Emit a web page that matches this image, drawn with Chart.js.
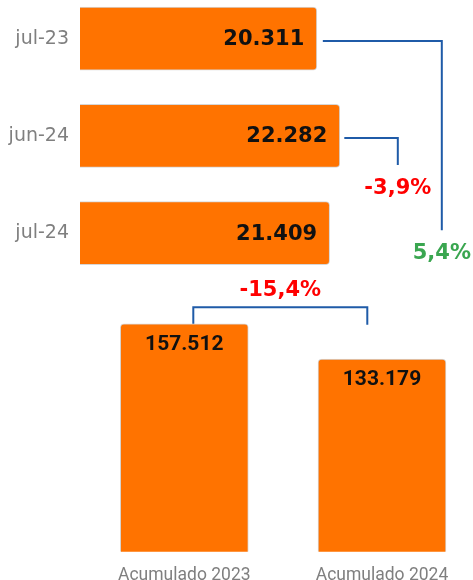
<!DOCTYPE html>
<html>
<head>
<meta charset="utf-8">
<script src="https://cdn.jsdelivr.net/npm/chart.js@4/dist/chart.umd.min.js"></script>
<style>
  html, body { margin: 0; padding: 0; background: #ffffff; }
  #wrap { position: relative; width: 473px; height: 580px; overflow: hidden; }
  canvas { position: absolute; left: 0; top: 0; }
</style>
</head>
<body>
<div id="wrap">
  <canvas id="top" width="473" height="580"></canvas>
  <canvas id="bottom" width="473" height="580"></canvas>
</div>
<script>
// ---- data ----
const monthLabels = ['jul-23', 'jun-24', 'jul-24'];
const monthValues = [20311, 22282, 21409];
const accumLabels = ['Acumulado 2023', 'Acumulado 2024'];
const accumValues = [157512, 133179];

// ---- styles ----
const ORANGE = '#FF7300';
const EDGE = '#d6d6d6';
const LINE = '#1f5ba8';
const RED = '#ff0000';
const GREEN = '#3aa650';
const GRAY = '#7f7f7f';
const PCT_FONT = 'bold 21px "DejaVu Sans"';

function fmtNum(v) {
  return String(v).replace(/\B(?=(\d{3})+(?!\d))/g, '.');
}
function pct(a, b) {
  const p = (b / a - 1) * 100;
  return { text: p.toFixed(1).replace('.', ',') + '%', color: p < 0 ? RED : GREEN };
}

// ---- top (horizontal) chart ----
const topPlugin = {
  id: 'topAnno',
  afterDatasetsDraw(chart) {
    const ctx = chart.ctx;
    const bars = chart.getDatasetMeta(0).data;
    ctx.save();
    ctx.font = 'bold 21px "DejaVu Sans"';
    ctx.fillStyle = '#111111';
    ctx.textAlign = 'right';
    ctx.textBaseline = 'middle';
    bars.forEach((b, i) => {
      ctx.fillText(fmtNum(monthValues[i]), b.x - 12.5, b.y + 1);
    });
    const maxEnd = Math.max(...bars.map(b => b.x));
    ctx.strokeStyle = LINE;
    ctx.lineWidth = 2;
    const b0 = bars[0], b1 = bars[1], b2 = bars[2];
    // connector jun-24 -> jul-24
    const xv2 = maxEnd + 58;
    ctx.beginPath();
    ctx.moveTo(b1.x + 4.5, b1.y + 2);
    ctx.lineTo(xv2, b1.y + 2);
    ctx.lineTo(xv2, b1.y + 29);
    ctx.stroke();
    // connector jul-23 -> jul-24
    const xv1 = maxEnd + 102;
    ctx.beginPath();
    ctx.moveTo(b0.x + 6, b0.y + 2.3);
    ctx.lineTo(xv1, b0.y + 2.3);
    ctx.lineTo(xv1, b2.y - 3);
    ctx.stroke();
    // percentages
    ctx.font = PCT_FONT;
    ctx.textAlign = 'center';
    const p1 = pct(monthValues[1], monthValues[2]);
    ctx.fillStyle = p1.color;
    ctx.fillText(p1.text, xv2, b1.y + 53);
    const p0 = pct(monthValues[0], monthValues[2]);
    ctx.fillStyle = p0.color;
    ctx.fillText(p0.text, xv1, b2.y + 20);
    ctx.restore();
  }
};

new Chart(document.getElementById('top'), {
  type: 'bar',
  data: {
    labels: monthLabels,
    datasets: [{
      data: monthValues,
      backgroundColor: ORANGE,
      borderColor: EDGE,
      borderWidth: 1,
      borderRadius: 4,
      borderSkipped: 'start',
      barThickness: 63,
      clip: false
    }]
  },
  options: {
    indexAxis: 'y',
    responsive: false,
    animation: false,
    layout: { padding: { top: 38.7, bottom: 580 - 233.2, left: 0, right: 43.2 } },
    plugins: { legend: { display: false }, tooltip: { enabled: false } },
    scales: {
      x: { display: false, min: 0, max: 30000 },
      y: {
        offset: false,
        grid: { display: false, drawTicks: false },
        border: { display: false },
        ticks: { color: GRAY, font: { family: 'DejaVu Sans', size: 19 }, padding: 11 },
        afterFit(s) { s.width = 80; }
      }
    }
  },
  plugins: [topPlugin]
});

// ---- bottom (vertical) chart ----
const bottomPlugin = {
  id: 'bottomAnno',
  afterDatasetsDraw(chart) {
    const ctx = chart.ctx;
    const bars = chart.getDatasetMeta(0).data;
    ctx.save();
    ctx.font = 'bold 21px Roboto';
    ctx.fillStyle = '#111111';
    ctx.textAlign = 'center';
    ctx.textBaseline = 'middle';
    bars.forEach((b, i) => {
      ctx.fillText(fmtNum(accumValues[i]), b.x, b.y + 21);
    });
    const a = bars[0], c = bars[1];
    const topY = Math.min(a.y, c.y) - 16.6;
    const xl = a.x + 9, xr = c.x - 14.7;
    ctx.strokeStyle = LINE;
    ctx.lineWidth = 2;
    ctx.beginPath();
    ctx.moveTo(xl, topY + 16.6);
    ctx.lineTo(xl, topY);
    ctx.lineTo(xr, topY);
    ctx.lineTo(xr, topY + 17.6);
    ctx.stroke();
    const p = pct(accumValues[0], accumValues[1]);
    ctx.font = PCT_FONT;
    ctx.fillStyle = p.color;
    ctx.fillText(p.text, (xl + xr) / 2, topY - 17);
    ctx.restore();
  }
};

new Chart(document.getElementById('bottom'), {
  type: 'bar',
  data: {
    labels: accumLabels,
    datasets: [{
      data: accumValues,
      backgroundColor: ORANGE,
      borderColor: EDGE,
      borderWidth: 1,
      borderRadius: 4,
      borderSkipped: 'start',
      barThickness: 128,
      clip: false
    }]
  },
  options: {
    responsive: false,
    animation: false,
    layout: { padding: { top: 291.2, bottom: 0, left: 184.3, right: 91 } },
    plugins: { legend: { display: false }, tooltip: { enabled: false } },
    scales: {
      y: { display: false, min: 0, max: 180000 },
      x: {
        offset: false,
        grid: { display: false, drawTicks: false },
        border: { display: false },
        ticks: { color: GRAY, font: { family: 'Roboto', size: 17.5 }, padding: 13, maxRotation: 0, autoSkip: false },
        afterFit(s) { s.height = 28.3; }
      }
    }
  },
  plugins: [bottomPlugin]
});
</script>
</body>
</html>
